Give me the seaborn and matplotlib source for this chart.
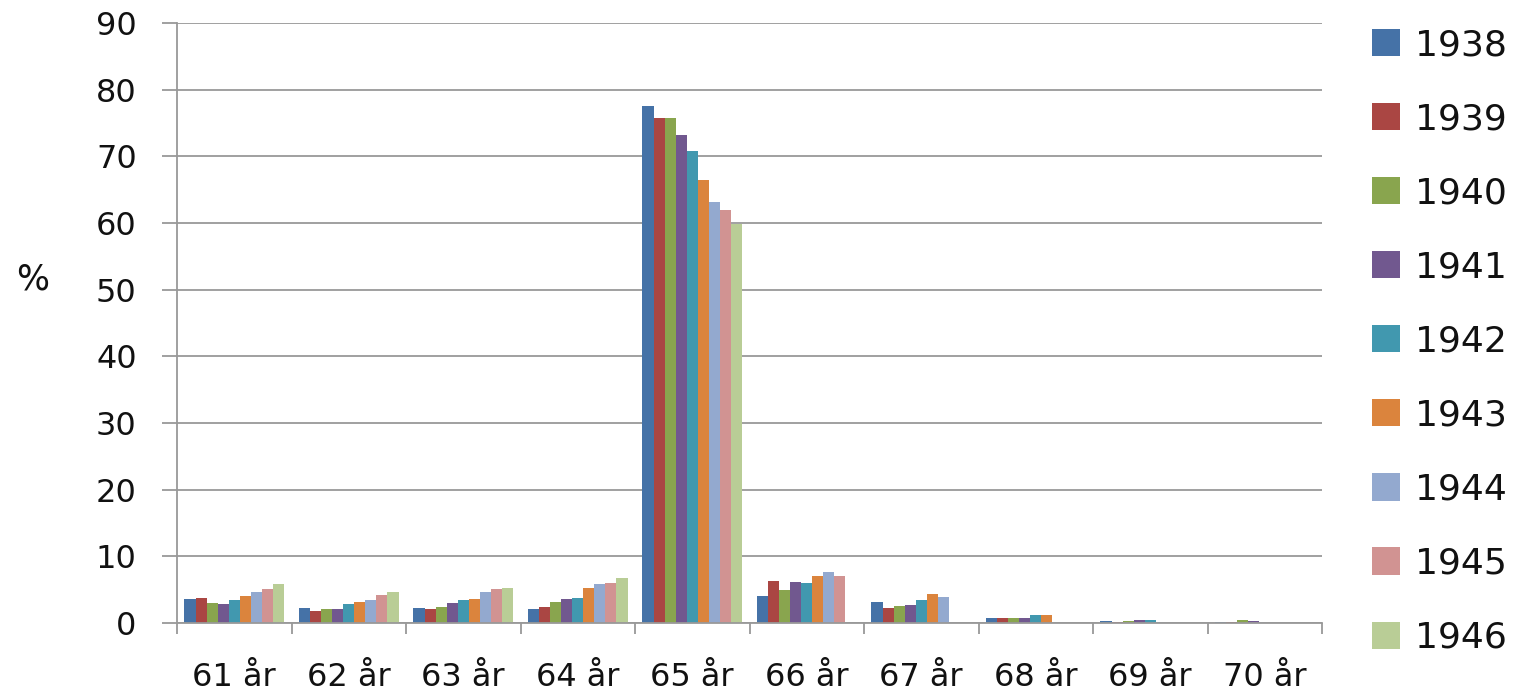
import matplotlib
matplotlib.use("Agg")
import matplotlib.pyplot as plt
import seaborn as sns
import pandas as pd
from matplotlib.patches import Patch
from matplotlib.ticker import MultipleLocator, FixedLocator

ages = ["61 år", "62 år", "63 år", "64 år", "65 år", "66 år", "67 år", "68 år", "69 år", "70 år"]
years = ["1938", "1939", "1940", "1941", "1942", "1943", "1944", "1945", "1946"]

v1938 = [3.6, 2.3, 2.3, 2.1, 77.6, 4.1, 3.1, 0.75, 0.25, 0.2]
v1939 = [3.8, 1.8, 2.1, 2.4, 75.8, 6.3, 2.2, 0.75, 0.2, 0.2]
v1940 = [3.0, 2.1, 2.4, 3.1, 75.8, 4.9, 2.5, 0.75, 0.25, 0.5]
v1941 = [2.8, 2.1, 3.0, 3.6, 73.2, 6.2, 2.7, 0.75, 0.45, 0.3]
v1942 = [3.4, 2.8, 3.4, 3.8, 70.8, 6.0, 3.4, 1.15, 0.45, 0.0]
v1943 = [4.0, 3.1, 3.6, 5.2, 66.4, 7.0, 4.4, 1.15, 0.0, 0.0]
v1944 = [4.6, 3.4, 4.7, 5.9, 63.1, 7.7, 3.9, 0.0, 0.0, 0.0]
v1945 = [5.1, 4.2, 5.1, 6.0, 62.0, 7.1, 0.0, 0.0, 0.0, 0.0]
v1946 = [5.9, 4.7, 5.3, 6.7, 59.9, 0.0, 0.0, 0.0, 0.0, 0.0]

series = [v1938, v1939, v1940, v1941, v1942, v1943, v1944, v1945, v1946]
colors = ["#4572A7", "#AA4643", "#89A54E", "#71588F", "#4198AF",
          "#DB843D", "#93A9CF", "#D19392", "#B9CD96"]

rows = []
for y, vals in zip(years, series):
    for a, v in zip(ages, vals):
        rows.append({"age": a, "year": y, "value": v})
df = pd.DataFrame(rows)

sns.set_style("white")
plt.rcParams["font.family"] = ["DejaVu Sans"]
plt.rcParams["text.color"] = "#111111"

fig = plt.figure(figsize=(15.15, 6.9), dpi=100)
ax = fig.add_axes([177/1515, 1-623/690, (1322-177)/1515, 600/690])

sns.barplot(data=df, x="age", y="value", hue="year", order=ages, hue_order=years,
            palette=colors, width=0.87, gap=0, linewidth=0, errorbar=None,
            ax=ax, legend=False, saturation=1)

ax.set_ylim(0, 90)
ax.set_xlim(-0.5, len(ages) - 0.5)
ax.yaxis.set_major_locator(MultipleLocator(10))
ax.yaxis.grid(True, color="#999999", linewidth=1.3)
ax.set_axisbelow(True)

for s in ["top", "right"]:
    ax.spines[s].set_visible(False)
for s in ["left", "bottom"]:
    ax.spines[s].set_color("#999999")
    ax.spines[s].set_linewidth(1.3)

ax.tick_params(axis="y", length=11, width=1.3, color="#999999", labelsize=23, pad=18,
               direction="out", left=True, labelcolor="#111111")
ax.xaxis.set_minor_locator(FixedLocator([i - 0.5 for i in range(len(ages) + 1)]))
ax.tick_params(axis="x", which="major", length=0, labelsize=23, pad=28, labelcolor="#111111")
ax.tick_params(axis="x", which="minor", length=8, width=1.3, color="#999999", direction="out", bottom=True)

ax.set_xlabel("")
ax.set_ylabel("%", rotation=0, fontsize=25, va="center", ha="center", color="#111111")
ax.yaxis.set_label_coords(-0.126, 0.573)

handles = [Patch(facecolor=c, edgecolor="none") for c in colors]
fig.legend(handles, years, loc="upper left", bbox_to_anchor=(1372/1515, 1-28/690),
           frameon=False, fontsize=26, handlelength=0.78, handleheight=0.78,
           handletextpad=0.42, labelspacing=1.11, borderpad=0, borderaxespad=0)

fig.savefig("out.png", dpi=100)
